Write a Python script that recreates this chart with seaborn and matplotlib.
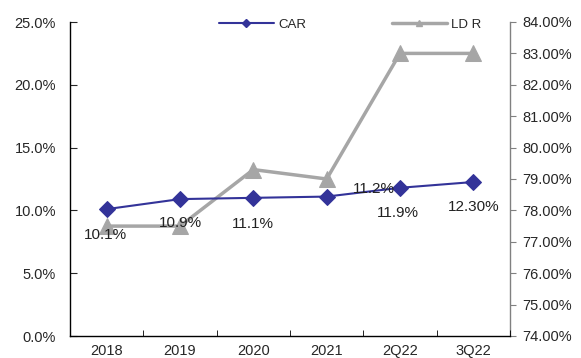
import matplotlib
matplotlib.use("Agg")
import matplotlib.pyplot as plt
import seaborn as sns
import pandas as pd
from matplotlib.ticker import FuncFormatter, FixedLocator
from matplotlib.lines import Line2D

categories = ["2018", "2019", "2020", "2021", "2Q22", "3Q22"]
car = [10.1, 10.9, 11.0, 11.1, 11.8, 12.26]
ldr = [77.5, 77.5, 79.3, 79.0, 83.0, 83.0]
car_labels = ["10.1%", "10.9%", "11.1%", "11.2%", "11.9%", "12.30%"]

sns.set_style("white")
plt.rcParams["font.family"] = ["Liberation Sans", "DejaVu Sans"]
plt.rcParams["font.size"] = 10

df = pd.DataFrame({"x": range(len(categories)), "CAR": car, "LDR": ldr})

fig = plt.figure(figsize=(5.81, 3.58), dpi=100)
ax = fig.add_axes([70/581, 22/358, 440/581, 314/358])
ax2 = ax.twinx()

blue = "#333399"
gray = "#A6A6A6"

sns.lineplot(data=df, x="x", y="LDR", ax=ax2, color=gray, marker="^",
             markersize=12, markeredgecolor=gray, linewidth=2.5, label="LDR", legend=False)
sns.lineplot(data=df, x="x", y="CAR", ax=ax, color=blue, marker="D",
             markersize=8, markeredgecolor=blue, linewidth=1.5, label="CAR", legend=False)
ax.set_zorder(ax2.get_zorder() + 1)
ax.patch.set_visible(False)

# labels (offsets in pixels)
offsets = [(-1, -26), (0, -24), (0, -26), (47, 8), (-2, -25), (0, -25)]
for i, (lab, (dx, dy)) in enumerate(zip(car_labels, offsets)):
    ax.annotate(lab, (i, car[i]), xytext=(dx, dy), textcoords="offset pixels",
                ha="center", va="center", fontsize=11, color="#222222")

ax.set_xlim(-0.5, len(categories) - 0.5)
ax.set_ylim(0, 25)
ax2.set_ylim(74, 84)
ax.set_yticks([0, 5, 10, 15, 20, 25])
ax.yaxis.set_major_formatter(FuncFormatter(lambda v, p: f"{v:.1f}%"))
ax2.set_yticks(list(range(74, 85)))
ax2.yaxis.set_major_formatter(FuncFormatter(lambda v, p: f"{v:.2f}%"))

ax.set_xticks(range(len(categories)))
ax.set_xticklabels(categories)
ax.xaxis.set_minor_locator(FixedLocator([i + 0.5 for i in range(-1, len(categories))]))
ax.tick_params(axis="x", which="major", length=0, pad=6, labelsize=10.5)
ax.tick_params(axis="x", which="minor", length=4, direction="in", color="black", bottom=True)
ax.tick_params(axis="y", length=5, direction="in", labelsize=10.5, pad=10)
ax2.tick_params(axis="y", length=4, direction="out", labelsize=10.5, color="#808080", pad=5)
ax.set_xlabel("")
ax.set_ylabel("")
ax2.set_ylabel("")

for a in (ax, ax2):
    a.spines["top"].set_visible(False)
ax.spines["right"].set_visible(False)
ax2.spines["left"].set_visible(False)
ax2.spines["bottom"].set_visible(False)
ax.spines["left"].set_color("black")
ax.spines["bottom"].set_color("black")
ax2.spines["right"].set_color("#808080")
for s in ("left", "bottom"):
    ax.spines[s].set_linewidth(1.0)
ax2.spines["right"].set_linewidth(1.0)

hc = Line2D([], [], color=blue, marker="D", markersize=4, linewidth=1.5)
hl = Line2D([], [], color=gray, marker="^", markersize=5, linewidth=2.5)
fig.legend([hc, hl], ["CAR", "LD R"], loc="center", bbox_to_anchor=(350/581, 1 - 25/358),
           ncol=2, frameon=False, fontsize=9.5, columnspacing=6.5, handlelength=4.2,
           handletextpad=0.3)

fig.savefig("out.png", dpi=100)
